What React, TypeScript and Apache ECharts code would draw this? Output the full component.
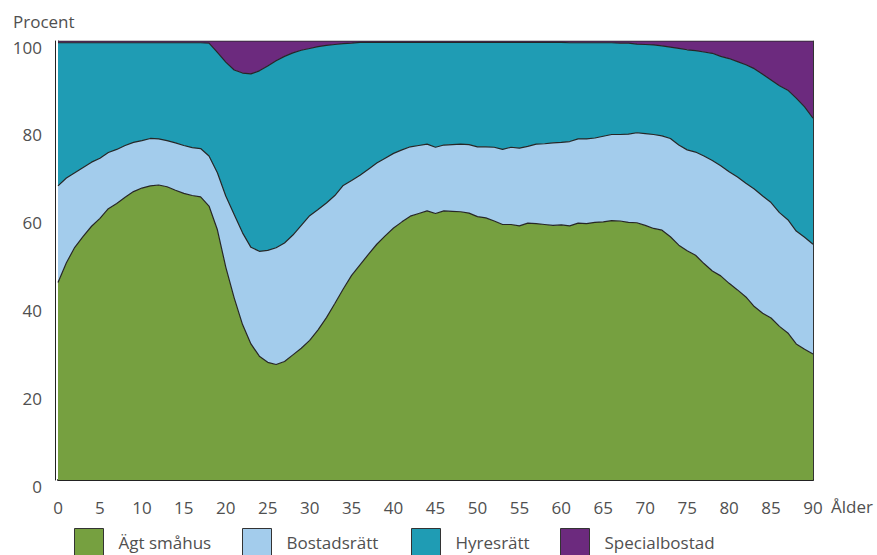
import React, { useEffect, useRef } from "react";
import * as echarts from "echarts";

// Ages 0–90 (category axis)
const ages: string[] = [
  "0","1","2","3","4","5","6","7","8","9","10","11","12","13","14","15","16","17","18","19",
  "20","21","22","23","24","25","26","27","28","29","30","31","32","33","34","35","36","37","38","39",
  "40","41","42","43","44","45","46","47","48","49","50","51","52","53","54","55","56","57","58","59",
  "60","61","62","63","64","65","66","67","68","69","70","71","72","73","74","75","76","77","78","79",
  "80","81","82","83","84","85","86","87","88","89","90",
];

// Read boundaries (cumulative percent) of the stacked areas
// Top of "Ägt småhus" (= its share)
const agtSmahusLevel: number[] = [
  45, 49.5, 53, 55.5, 57.8, 59.6, 61.8, 63, 64.4, 65.7,
  66.5, 67, 67.2, 66.8, 66, 65.3, 64.8, 64.5, 62.4, 57,
  48.5, 41.5, 35.4, 31, 28.2, 26.8, 26.3, 27, 28.5, 30,
  31.8, 34.2, 37, 40.2, 43.5, 46.6, 49, 51.4, 53.7, 55.6,
  57.4, 58.8, 60.1, 60.7, 61.3, 60.7, 61.3, 61.2, 61.1, 60.8,
  60, 59.7, 59, 58.2, 58.2, 57.9, 58.5, 58.4, 58.2, 58,
  58.1, 57.9, 58.5, 58.4, 58.7, 58.8, 59.1, 59, 58.7, 58.6,
  58, 57.3, 56.9, 55.4, 53.5, 52.2, 51.2, 49.3, 47.6, 46.5,
  44.8, 43.3, 41.7, 39.5, 38, 36.9, 35, 33.5, 31, 29.8,
  28.7,
];
// Top of "Bostadsrätt" (cumulative)
const bostadsrattLevel: number[] = [
  67, 68.8, 70, 71.2, 72.4, 73.3, 74.6, 75.3, 76.2, 76.9,
  77.3, 77.8, 77.7, 77.3, 76.8, 76.2, 75.7, 75.5, 73.8, 70,
  64.7, 60.5, 56.3, 53, 52.1, 52.3, 52.9, 54, 55.8, 58,
  60.2, 61.6, 63.1, 64.8, 67.1, 68.2, 69.4, 70.8, 72.2, 73.3,
  74.4, 75.2, 75.9, 76.2, 76.5, 75.8, 76.3, 76.4, 76.5, 76.4,
  75.9, 75.9, 75.8, 75.3, 75.8, 75.6, 76, 76.5, 76.6, 76.8,
  76.9, 77.1, 77.7, 77.7, 77.9, 78.3, 78.7, 78.7, 78.8, 79.1,
  78.9, 78.7, 78.4, 77.8, 76.3, 75.2, 74.7, 73.8, 72.8, 71.6,
  70.2, 69, 67.6, 66.3, 64.7, 63.2, 60.9, 59.3, 56.7, 55.3,
  53.7,
];
// Top of "Hyresrätt" (cumulative)
const hyresrattLevel: number[] = [
  99.6, 99.6, 99.6, 99.6, 99.6, 99.6, 99.6, 99.6, 99.6, 99.6,
  99.6, 99.6, 99.6, 99.6, 99.6, 99.6, 99.6, 99.6, 99.5, 97.4,
  95.2, 93.4, 92.7, 92.5, 93.2, 94.3, 95.5, 96.5, 97.3, 97.9,
  98.3, 98.7, 99, 99.2, 99.4, 99.5, 99.7, 99.7, 99.7, 99.7,
  99.7, 99.7, 99.7, 99.7, 99.7, 99.7, 99.7, 99.7, 99.7, 99.7,
  99.7, 99.7, 99.7, 99.7, 99.7, 99.7, 99.7, 99.7, 99.7, 99.7,
  99.7, 99.6, 99.6, 99.6, 99.6, 99.6, 99.6, 99.5, 99.5, 99.3,
  99.2, 99.1, 98.9, 98.6, 98.3, 98, 97.8, 97.5, 97.2, 96.5,
  96, 95.3, 94.6, 93.7, 92.4, 91.1, 89.8, 88.8, 87, 85,
  82.4,
];
const totalLevel = 100;

const yTicks = [0, 20, 40, 60, 80, 100];

const round1 = (v: number) => Math.round(v * 10) / 10;
const agtSmahus = agtSmahusLevel.map(round1);
const bostadsratt = bostadsrattLevel.map((v, i) => round1(v - agtSmahusLevel[i]));
const hyresratt = hyresrattLevel.map((v, i) => round1(v - bostadsrattLevel[i]));
const specialbostad = hyresrattLevel.map((v) => round1(totalLevel - v));

const names = ["Ägt småhus", "Bostadsrätt", "Hyresrätt", "Specialbostad"];
const colors = ["#76A040", "#A3CCEC", "#1F9CB4", "#6C2A7E"];
const seriesData = [agtSmahus, bostadsratt, hyresratt, specialbostad];

const FONT = "'Open Sans', 'Noto Sans', sans-serif";
const TEXT = "#505050";

export default function App() {
  const ref = useRef<HTMLDivElement>(null);
  useEffect(() => {
    if (!ref.current) return;
    const chart = echarts.init(ref.current, null, { renderer: "svg" });
    const legendLefts = [74, 242, 411, 560];
    chart.setOption({
      animation: false,
      backgroundColor: "#ffffff",
      textStyle: { fontFamily: FONT },
      grid: { left: 58, right: 64, top: 41, bottom: 75, containLabel: false },
      xAxis: {
        type: "category",
        data: ages,
        boundaryGap: false,
        axisLine: { show: true, lineStyle: { color: "#222", width: 2 } },
        axisTick: { show: false },
        axisLabel: {
          interval: 4,
          margin: 19,
          fontSize: 17,
          color: TEXT,
          fontFamily: FONT,
        },
        splitLine: { show: false },
      },
      yAxis: [
        {
          type: "value",
          min: 0,
          max: 100,
          interval: 20,
          offset: 3,
          axisLine: { show: true, lineStyle: { color: "#222", width: 1 } },
          axisTick: { show: false },
          axisLabel: {
            margin: 13,
            fontSize: 17,
            color: TEXT,
            fontFamily: FONT,
            verticalAlign: "top",
            lineHeight: 12,
            formatter: (v: number) => (yTicks.includes(v) ? String(v) : ""),
          },
          splitLine: { show: false },
        },
        {
          type: "value",
          min: 0,
          max: 100,
          interval: 20,
          position: "left",
          offset: 0,
          axisLine: { show: true, lineStyle: { color: "#333", width: 1 } },
          axisTick: { show: false },
          axisLabel: { show: false },
          splitLine: { show: false },
        },
        {
          type: "value",
          min: 0,
          max: 100,
          interval: 20,
          position: "right",
          axisLine: { show: true, lineStyle: { color: "#333", width: 1 } },
          axisTick: { show: false },
          axisLabel: { show: false },
          splitLine: { show: false },
        },
      ],
      legend: names.map((n, i) => ({
        data: [n],
        left: legendLefts[i],
        top: 528,
        padding: 0,
        itemWidth: 29,
        itemHeight: 27,
        icon: "rect",
        itemStyle: { borderColor: "#333", borderWidth: 1 },
        textStyle: {
          fontSize: 17,
          color: TEXT,
          fontFamily: FONT,
          padding: [0, 0, 0, 10],
        },
        selectedMode: false,
      })),
      series: names.map((n, i) => ({
        name: n,
        type: "line",
        stack: "total",
        yAxisIndex: 0,
        data: seriesData[i],
        symbol: "none",
        smooth: false,
        color: colors[i],
        itemStyle: { color: colors[i] },
        lineStyle: { color: "#262626", width: 1.2 },
        areaStyle: { color: colors[i], opacity: 1 },
        emphasis: { disabled: true },
      })),
      graphic: [
        {
          type: "text",
          left: 13,
          top: 13,
          style: { text: "Procent", fontSize: 17, fill: TEXT, fontFamily: FONT },
        },
        {
          type: "text",
          left: 831,
          top: 498,
          style: { text: "Ålder", fontSize: 17, fill: TEXT, fontFamily: FONT },
        },
      ],
    });
    return () => chart.dispose();
  }, []);
  return (
    <div
      ref={ref}
      style={{ position: "fixed", left: 0, top: 0, width: 877, height: 555 }}
    />
  );
}
